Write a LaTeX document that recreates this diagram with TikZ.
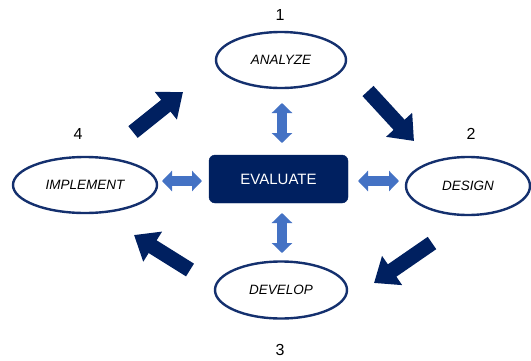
\documentclass[tikz,border=0pt]{standalone}
\usepackage{fontspec}
\setmainfont{Liberation Sans}
\usetikzlibrary{arrows.meta,shapes.geometric}
\definecolor{navy}{HTML}{002060}
\definecolor{rim}{HTML}{14306E}
\definecolor{lblue}{HTML}{4472C4}
\begin{document}
\begin{tikzpicture}[x=1pt,y=-1pt,
  phase/.style={ellipse,draw=rim,line width=2.4pt,fill=white,inner sep=0pt,
    font=\fontsize{13.5}{15}\selectfont\itshape},
  num/.style={font=\fontsize{16}{18}\selectfont},
  bigarrow/.style={navy,line width=15pt,-{Triangle[length=22pt,width=34pt]}},
  duo/.style={lblue,line width=9.5pt,{Triangle[length=10pt,width=20pt]}-{Triangle[length=10pt,width=20pt]}}]
\useasboundingbox (0,0) rectangle (531,360);
\node[phase,minimum width=130pt,minimum height=56pt] (an) at (281,60) {ANALYZE};
\node[phase,minimum width=124pt,minimum height=58pt] (de) at (468,186) {DESIGN};
\node[phase,minimum width=144pt,minimum height=56pt] (im) at (85,185) {IMPLEMENT};
\node[phase,minimum width=132pt,minimum height=57pt] (dv) at (281,290) {DEVELOP};
\node[rounded corners=6pt,fill=navy,draw=navy,minimum width=139pt,minimum height=48pt,
  text=white,font=\fontsize{15}{17}\selectfont] (ev) at (278.5,179) {EVALUATE};
\node[num] (n1) at (280,15) {1};
\node[num] (n2) at (471,134) {2};
\node[num] (n3) at (280,350) {3};
\node[num] (n4) at (78,134) {4};
% double arrows
\coordinate (ut) at (282,103); \coordinate (ub) at (282,143);
\coordinate (dt) at (282,213); \coordinate (db) at (282,253);
\coordinate (ll) at (162,181); \coordinate (lr) at (202,181);
\coordinate (rl) at (358,181); \coordinate (rr) at (399,181);
\draw[duo] (ut) -- (ub);
\draw[duo] (dt) -- (db);
\draw[duo] (ll) -- (lr);
\draw[duo] (rl) -- (rr);
% big arrows
\coordinate (a1s) at (133,132); \coordinate (a1e) at (183,92);
\coordinate (a2s) at (368,91); \coordinate (a2e) at (414,141);
\coordinate (a3s) at (432,243); \coordinate (a3e) at (374,283);
\coordinate (a4s) at (190,270); \coordinate (a4e) at (134,235);
\draw[bigarrow] (a1s) -- (a1e);
\draw[bigarrow] (a2s) -- (a2e);
\draw[bigarrow] (a3s) -- (a3e);
\draw[bigarrow] (a4s) -- (a4e);
\end{tikzpicture}
\end{document}
